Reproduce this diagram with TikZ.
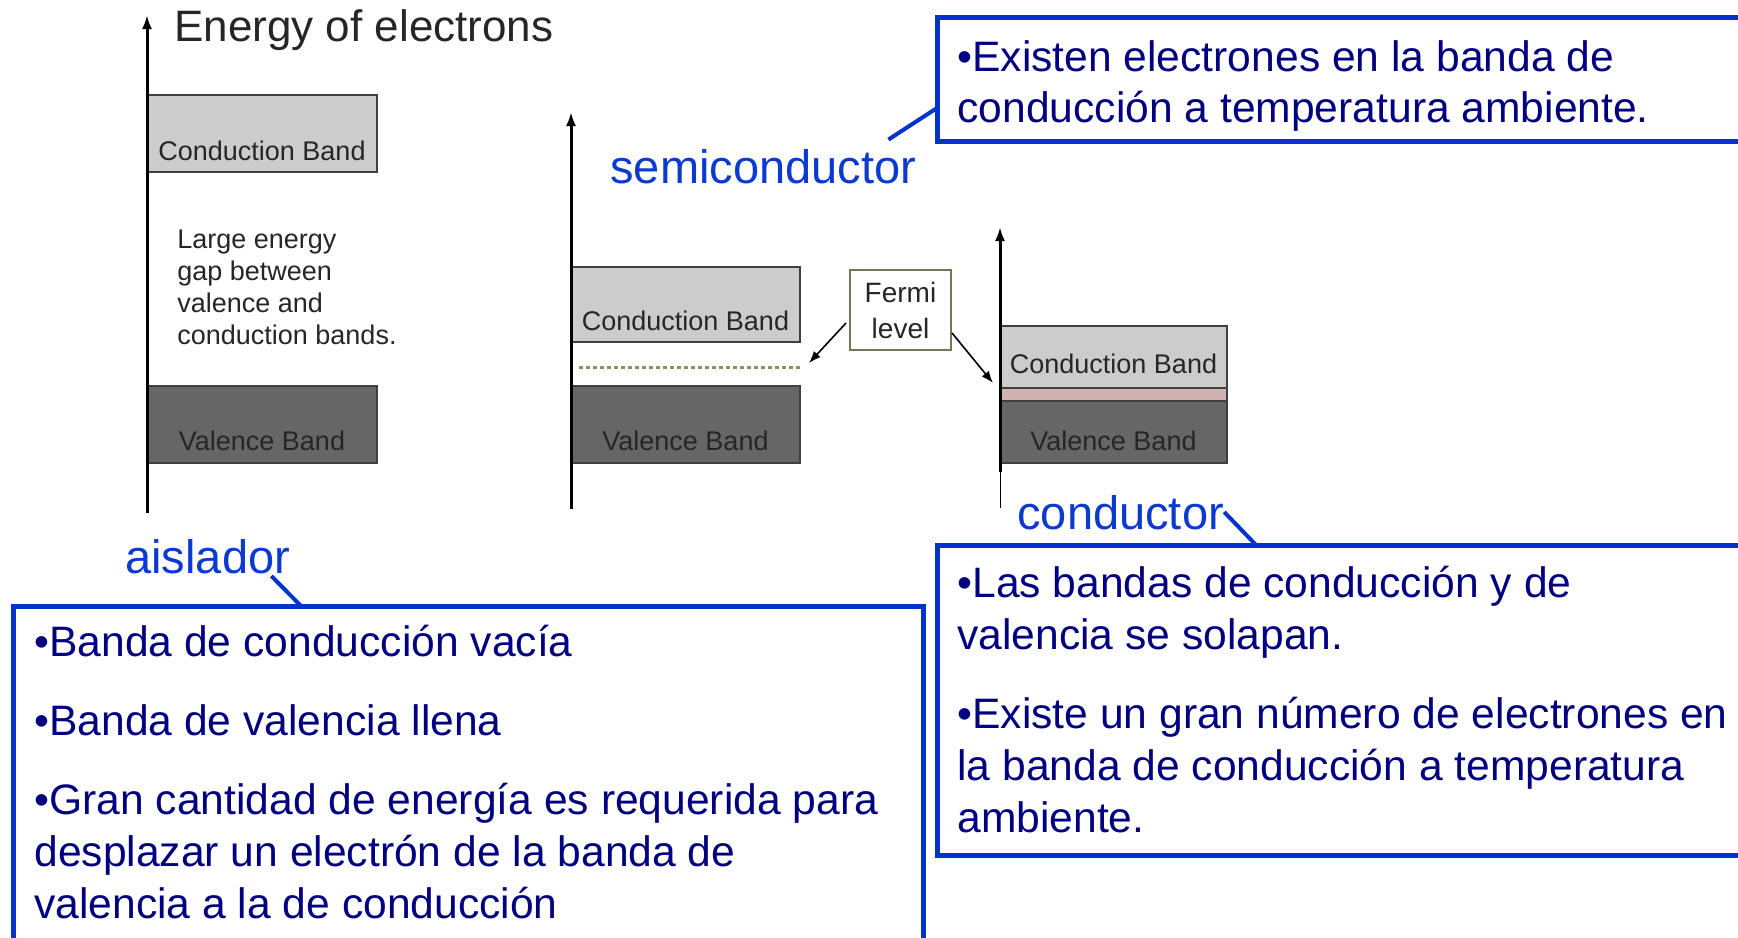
\documentclass[tikz,border=0pt]{standalone}
\usepackage{fontspec}
\setmainfont{Liberation Sans}
\usepackage{xcolor}
\usetikzlibrary{arrows.meta,positioning,calc}

\definecolor{cbfill}{HTML}{CCCCCC}
\definecolor{vbfill}{HTML}{666666}
\definecolor{bandline}{HTML}{404040}
\definecolor{bandtext}{HTML}{262626}
\definecolor{gaptint}{HTML}{CFB3B3}
\definecolor{fermiline}{HTML}{7D7257}
\definecolor{dotline}{HTML}{9A8A62}
\definecolor{boxblue}{HTML}{0033CC}
\definecolor{tagblue}{HTML}{0A3AD0}
\definecolor{notetext}{HTML}{000080}

\tikzset{
  band/.style={draw=bandline,line width=1pt,inner sep=0pt,outer sep=0pt,text=bandtext,font=\fontsize{13.5}{16}\selectfont},
  cband/.style={band,fill=cbfill},
  vband/.style={band,fill=vbfill,text=black!85},
  axis/.style={line width=1.5pt,-{Latex[length=7pt,width=5pt]}},
  notebox/.style={draw=boxblue,line width=2.5pt,inner sep=0pt,outer sep=0pt,anchor=north west},
  notetxt/.style={text=notetext,inner sep=0pt,anchor=base west,font=\fontsize{21.3}{25.5}\selectfont},
  tag/.style={text=tagblue,inner sep=0pt,anchor=base west,font=\fontsize{23.5}{28}\selectfont},
  callout/.style={draw=boxblue,line width=2pt},
  pointer/.style={line width=0.8pt,-{Latex[length=6pt,width=4.5pt]}},
  fermidots/.style={draw=dotline,line width=1.5pt,dash pattern=on 2pt off 1.5pt}
}

\begin{document}
\begin{tikzpicture}[x=0.5pt,y=-0.5pt]
  \useasboundingbox (0,0) rectangle (1738,937);
  \clip (0,0) rectangle (1738,937);
  \fill[white] (0,0) rectangle (1738,937);

  \node[anchor=base west,inner sep=0pt,text=bandtext,font=\fontsize{22}{26}\selectfont] (energy) at (174,41) {Energy of electrons};
  \node[cband,anchor=north west,minimum width=115pt,text height=32.5pt,text depth=6pt] (cb1) at (147,95) {Conduction Band};
  \node[vband,anchor=north west,minimum width=115pt,text height=32pt,text depth=6.5pt] (vb1) at (147,386) {Valence Band};
  \node[anchor=base west,inner sep=0pt,text=bandtext,font=\fontsize{13.5}{16}\selectfont] (gaptext) at (177,248)
    {\parbox[t]{120pt}{Large energy\\gap between\\valence and\\conduction bands.}};
  \coordinate (ax1bot) at (147,513);
  \coordinate (ax1top) at (147,15);
  \draw[axis] (ax1bot) -- (ax1top);

  \node[cband,anchor=north west,minimum width=114.5pt,text height=31.5pt,text depth=6pt] (cb2) at (571,267) {Conduction Band};
  \node[vband,anchor=north west,minimum width=114.5pt,text height=32pt,text depth=6.5pt] (vb2) at (571,386) {Valence Band};
  \draw[fermidots] ([shift={(4pt,-12.5pt)}]cb2.south west) -- ([shift={(0pt,-12.5pt)}]cb2.south east);
  \coordinate (ax2bot) at (571,509);
  \coordinate (ax2top) at (571,112);
  \draw[axis] (ax2bot) -- (ax2top);

  \node[draw=fermiline,line width=1pt,fill=white,minimum width=50.5pt,minimum height=40pt,align=center,inner sep=0pt,
        text=bandtext,font=\fontsize{14}{18}\selectfont] (fermi) at (900.5,310) {Fermi\\level};

  \node[cband,anchor=north west,minimum width=113.5pt,text height=23.5pt,text depth=7.5pt] (cb3) at (1000,326) {Conduction Band};
  \node[band,fill=gaptint,minimum width=113.5pt,minimum height=6.5pt,below=0pt of cb3] (overlap) {};
  \node[vband,minimum width=113.5pt,text height=24.5pt,text depth=6.5pt,below=0pt of overlap] (vb3) {Valence Band};
  \coordinate (ax3bot) at (1000,472);
  \coordinate (ax3end) at (1000,508);
  \coordinate (ax3top) at (1000,227);
  \draw[axis] (ax3bot) -- (ax3top);
  \draw[line width=0.5pt] (ax3bot) -- (ax3end);

  \draw[pointer] ([shift={(-1.5pt,-6.5pt)}]fermi.west) -- ([shift={(4.5pt,-10.5pt)}]cb2.south east);
  \draw[pointer] ([yshift=-11.5pt]fermi.east) -- ([shift={(-3.5pt,2.5pt)}]cb3.south west);

  \node[tag] (semitag) at (610,183) {semiconductor};
  \node[tag] (aistag) at (125,573) {aislador};
  \node[tag] (condtag) at (1017,529) {conductor};

  \node[notebox,minimum width=420pt,minimum height=62pt] (semibox) at (937,17) {};
  \node[notetxt] (semitext) at (957,71)
    {\parbox[t]{400pt}{•Existen electrones en la banda de\\conducción a temperatura ambiente.}};

  \node[notebox,minimum width=455pt,minimum height=200pt] (aisbox) at (13,606) {};
  \node[notetxt,font=\fontsize{21.3}{26}\selectfont] (aistext) at (34,656)
    {\parbox[t]{440pt}{•Banda de conducción vacía\\[13.5pt]•Banda de valencia llena\\[13.5pt]•Gran cantidad de energía es requerida para\\desplazar un electrón de la banda de\\valencia a la de conducción}};

  \node[notebox,minimum width=420pt,minimum height=155pt] (condbox) at (937,545) {};
  \node[notetxt,font=\fontsize{21.3}{26}\selectfont] (condtext) at (957,597)
    {\parbox[t]{400pt}{•Las bandas de conducción y de\\valencia se solapan.\\[13.5pt]•Existe un gran número de electrones en\\la banda de conducción a temperatura\\ambiente.}};

  \draw[callout] ([shift={(-14pt,4.5pt)}]semitag.north east) -- ([yshift=16.5pt]semibox.south west);
  \draw[callout] ([shift={(-9.5pt,-1.5pt)}]aistag.base east) -- ([xshift=144pt]aisbox.north west);
  \draw[callout] ([yshift=8.5pt]condtag.base east) -- ([xshift=159.5pt]condbox.north west);
\end{tikzpicture}
\end{document}
